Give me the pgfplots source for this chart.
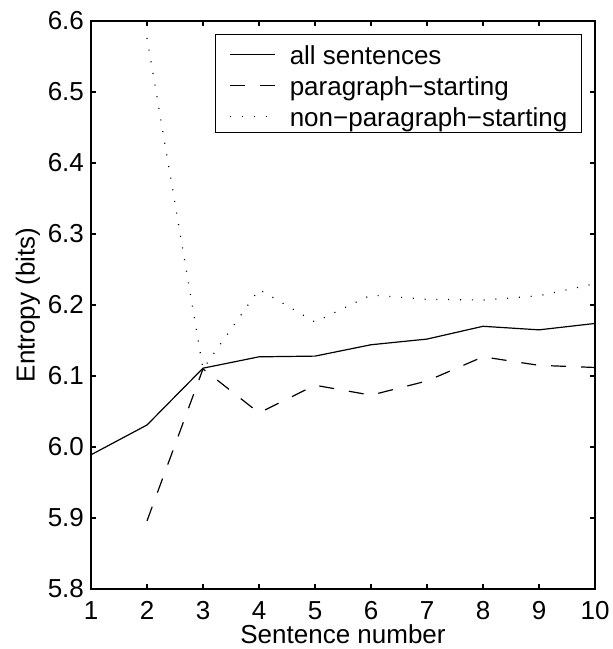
\documentclass[border=0pt]{standalone}
\usepackage{fontspec}
\setmainfont{Liberation Sans}
\usepackage{pgfplots}
\pgfplotsset{compat=1.18}
\newcommand{\chartfont}{\fontsize{13pt}{15.5pt}\selectfont}
\begin{document}
\begin{tikzpicture}
\begin{axis}[
  name=ax,
  scale only axis,
  width=252pt, height=284pt,
  xmin=1, xmax=10, ymin=5.8, ymax=6.6,
  xtick={1,2,3,4,5,6,7,8,9,10},
  ytick={5.8,5.9,6.0,6.1,6.2,6.3,6.4,6.5,6.6},
  /pgf/number format/assume math mode=true,
  yticklabel style={/pgf/number format/.cd, fixed, fixed zerofill, precision=1},
  tick label style={font=\chartfont},
  xticklabel style={yshift=-2.7pt},
  label style={font=\chartfont},
  major tick length=2.5pt,
  axis line style={line width=0.7pt},
  every tick/.style={black, line width=0.6pt},
  xlabel={Sentence number},
  ylabel={Entropy (bits)},
  xlabel style={at={(axis description cs:0.5,-0.05)}, anchor=north},
  ylabel style={at={(axis description cs:-0.0873,0.5)}, anchor=south},
  no markers,
  legend style={at={(0.974,0.977)}, anchor=north east, draw=black,
    line width=0.6pt, font=\chartfont, inner xsep=7pt, inner ysep=2.5pt,
    row sep=2.5pt, column sep=7pt, cells={anchor=base west},
    nodes={inner sep=0pt, text height=12.5pt, text depth=0.5pt}},
  legend image code/.code={\draw[#1] (0pt,5.2pt) -- (22.5pt,5.2pt);},
]
% all sentences
\addplot[black, line width=0.6pt] coordinates {
  (1,5.989) (2,6.031) (3,6.111) (4,6.127) (5,6.128)
  (6,6.144) (7,6.152) (8,6.170) (9,6.165) (10,6.174)};
% paragraph-starting
\addplot[black, line width=0.6pt, dash pattern=on 7.5pt off 7.5pt] coordinates {
  (2,5.896) (3,6.110) (4,6.048) (5,6.087) (6,6.073)
  (7,6.093) (8,6.127) (9,6.115) (10,6.112)};
% non-paragraph-starting
\addplot[black, line width=0.6pt, dash pattern=on 0.5pt off 5.4pt] coordinates {
  (2,6.576) (3,6.110) (4,6.222) (5,6.176) (6,6.214)
  (7,6.208) (8,6.207) (9,6.213) (10,6.230)};
\legend{all sentences, paragraph−starting, non−paragraph−starting}
\end{axis}
\pgfresetboundingbox
\path[use as bounding box] ([xshift=-45.5pt,yshift=-30pt]ax.south west)
  rectangle ([xshift=8.5pt,yshift=10.5pt]ax.north east);
\end{tikzpicture}
\end{document}
